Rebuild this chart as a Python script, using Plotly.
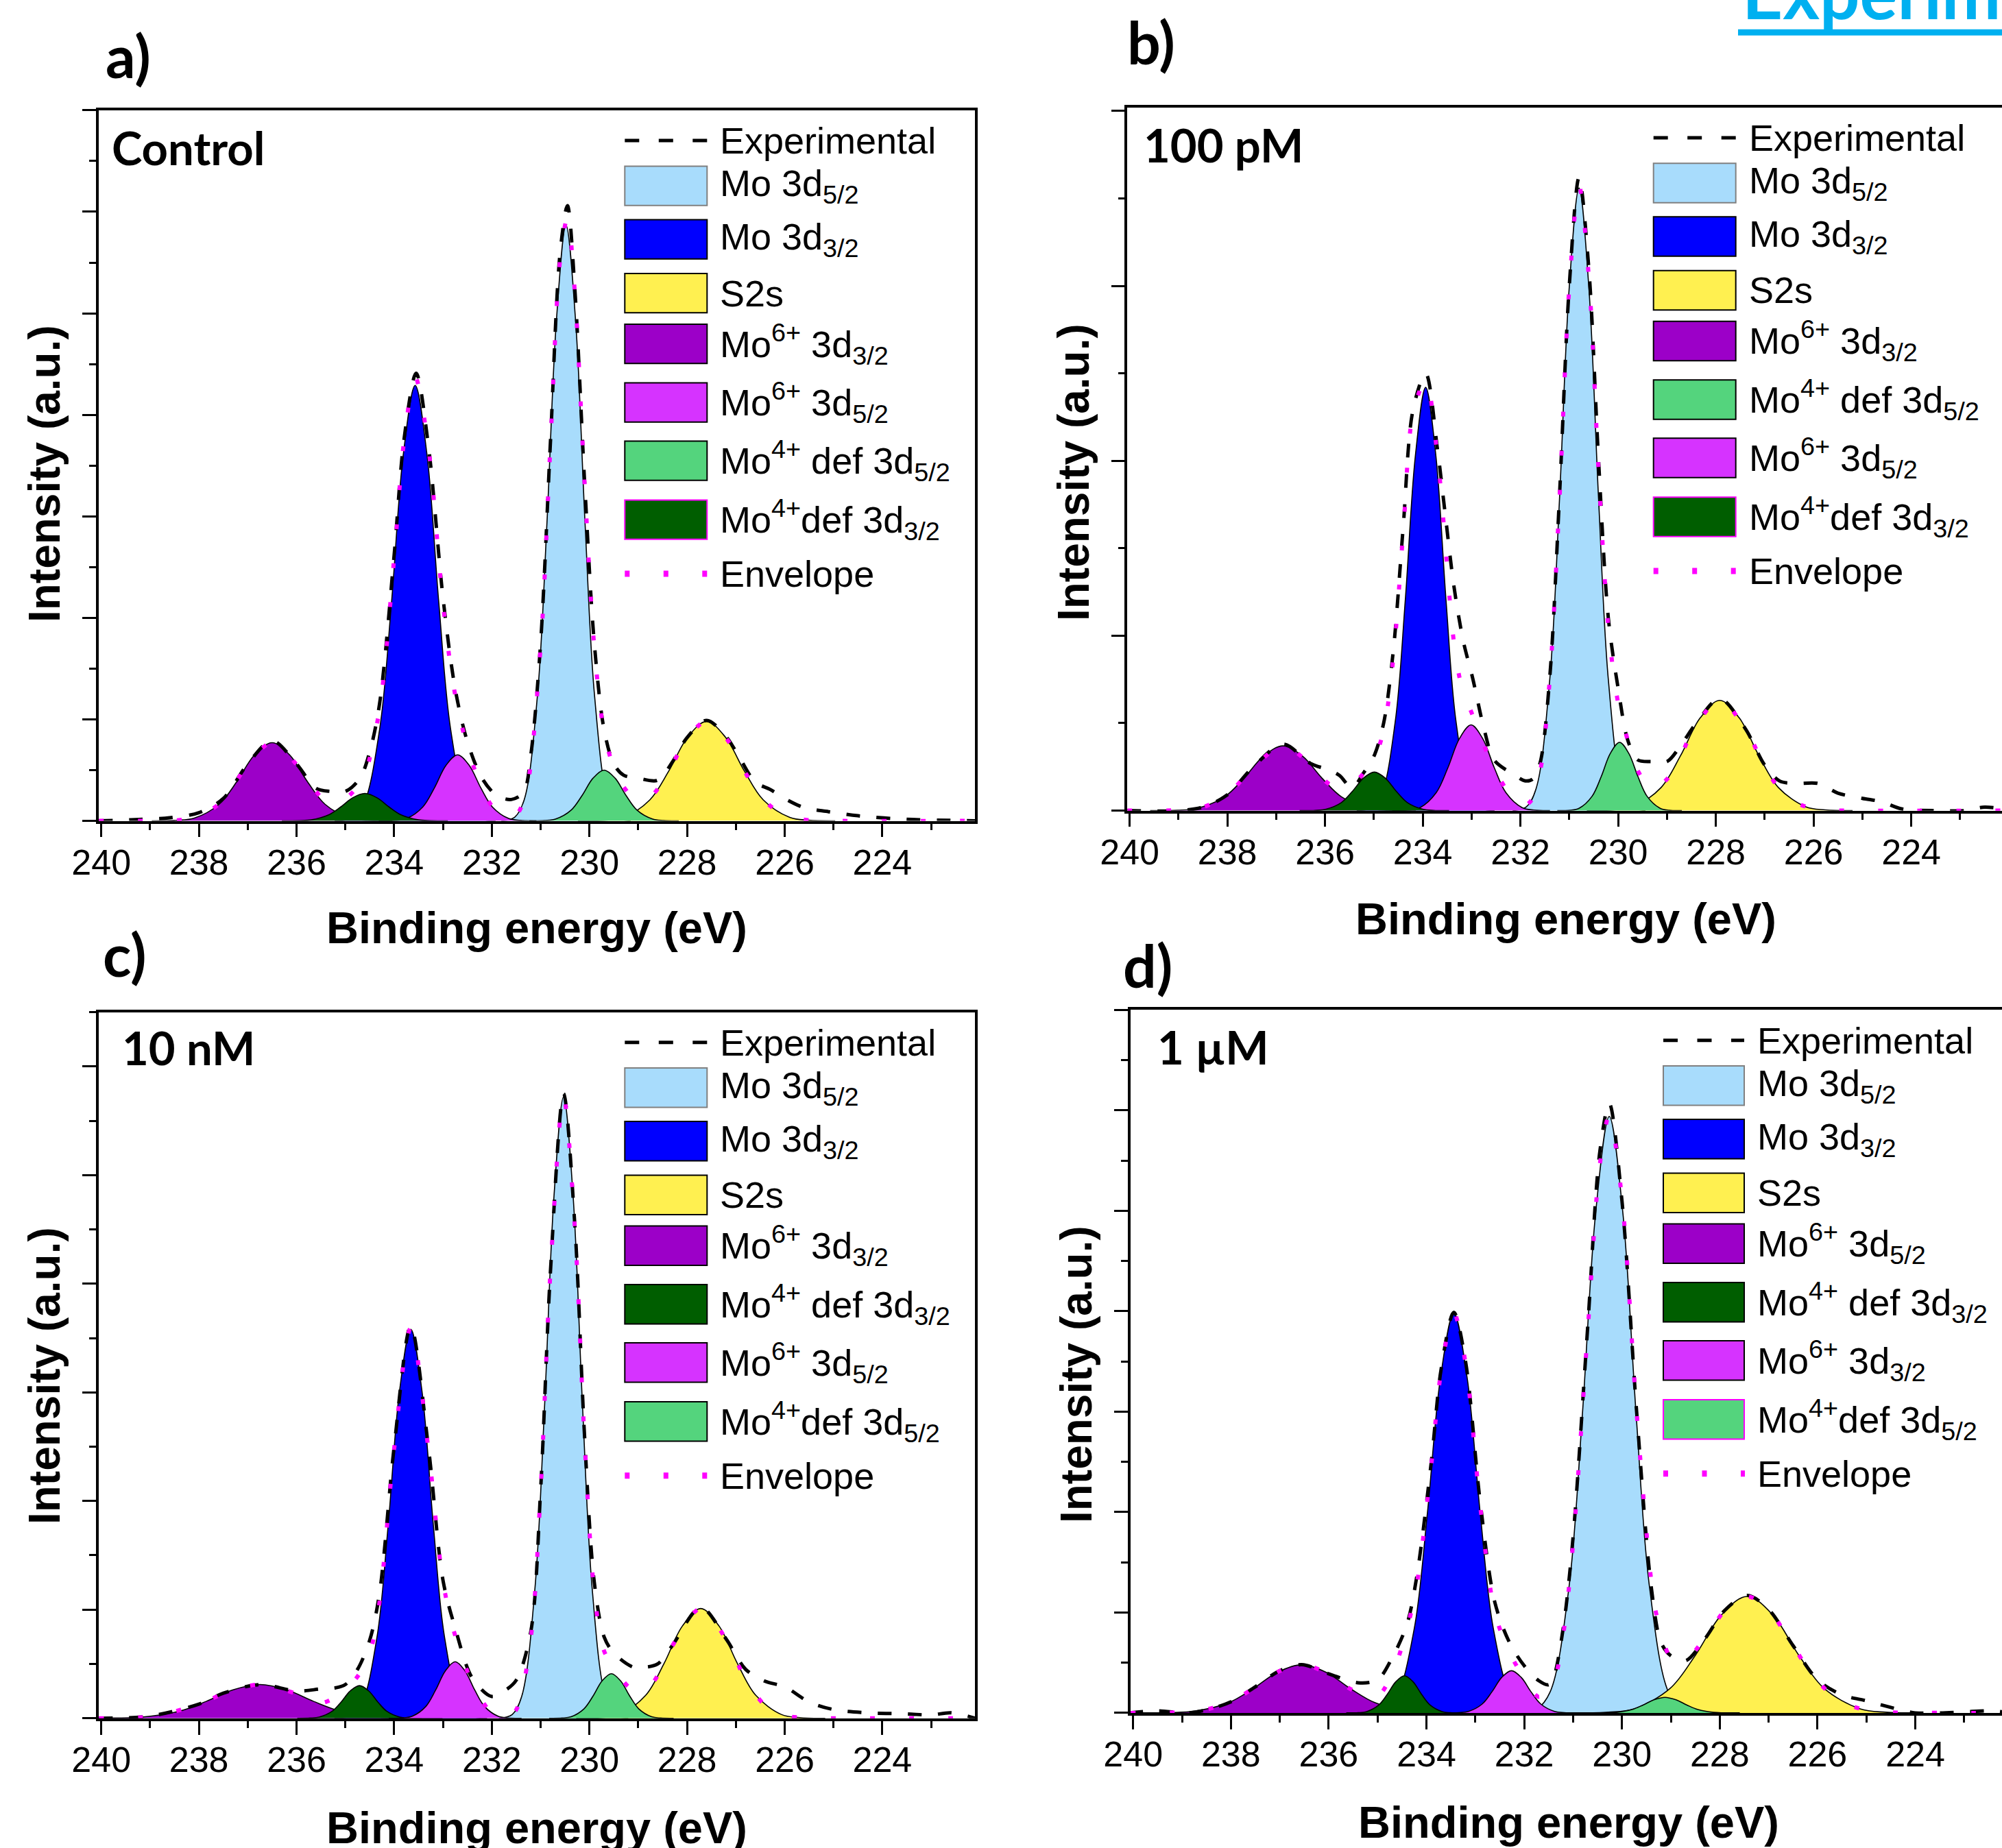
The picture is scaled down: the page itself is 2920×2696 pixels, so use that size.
import plotly.graph_objects as go

# ====================== DATA (binding energy eV, intensity a.u.) ======================
# ---- a) Control ----
A_MO52_X = [229.154, 229.427, 229.622, 229.895, 230.09, 230.285, 230.48, 230.675, 230.87, 231.065, 231.338, 231.533, 231.806]
A_MO52_Y = [0, 0.035, 0.205, 1.233, 2.935, 4.937, 5.87, 4.937, 2.935, 1.233, 0.205, 0.035, 0]
A_MO32_X = [231.921, 232.26, 232.503, 232.843, 233.085, 233.328, 233.57, 233.813, 234.055, 234.298, 234.637, 234.88, 235.219]
A_MO32_Y = [0, 0.026, 0.150, 0.901, 2.145, 3.608, 4.29, 3.608, 2.145, 0.901, 0.150, 0.026, 0]
A_S2S_X = [224.965, 225.508, 225.895, 226.438, 226.825, 227.213, 227.6, 227.988, 228.375, 228.763, 229.305, 229.693, 230.235]
A_S2S_Y = [0, 0.006, 0.034, 0.206, 0.49, 0.824, 0.98, 0.824, 0.49, 0.206, 0.034, 0.006, 0]
A_MO6A_X = [234.035, 234.543, 234.905, 235.413, 235.775, 236.138, 236.5, 236.863, 237.225, 237.588, 238.095, 238.458, 238.965]
A_MO6A_Y = [0, 0.005, 0.027, 0.162, 0.385, 0.648, 0.77, 0.648, 0.385, 0.162, 0.027, 0.005, 0]
A_MO6B_X = [231.085, 231.418, 231.655, 231.988, 232.225, 232.463, 232.7, 232.938, 233.175, 233.413, 233.745, 233.983, 234.315]
A_MO6B_Y = [0, 0.004, 0.023, 0.137, 0.325, 0.547, 0.65, 0.547, 0.325, 0.137, 0.023, 0.004, 0]
A_DEF52_X = [228.17, 228.485, 228.71, 229.025, 229.25, 229.475, 229.7, 229.925, 230.15, 230.375, 230.69, 230.915, 231.23]
A_DEF52_Y = [0, 0.003, 0.018, 0.105, 0.25, 0.421, 0.5, 0.421, 0.25, 0.105, 0.018, 0.003, 0]
A_DEF32_X = [232.9, 233.25, 233.5, 233.85, 234.1, 234.35, 234.6, 234.85, 235.1, 235.35, 235.7, 235.95, 236.3]
A_DEF32_Y = [0, 0.002, 0.009, 0.057, 0.135, 0.227, 0.27, 0.227, 0.135, 0.057, 0.009, 0.002, 0]
A_ENV_X = [240.05, 239.0, 238.5, 238.0, 237.5, 237.0, 236.5, 236.0, 235.5, 235.3, 235.0, 234.8, 234.6, 234.3, 234.0, 233.8,
           233.57, 233.3, 233.0, 232.75, 232.4, 232.0, 231.7, 231.5, 231.3, 231.0, 230.8, 230.6, 230.45, 230.3, 230.1, 229.9,
           229.7, 229.5, 229.3, 229.0, 228.7, 228.3, 228.0, 227.6, 227.2, 226.9, 226.5, 226.0, 225.5, 225.0, 222.1]
A_ENV_Y = [0, 0, 0.004, 0.04, 0.206, 0.554, 0.77, 0.555, 0.235, 0.184, 0.223, 0.309, 0.465, 1.10, 2.59, 3.73,
           4.37, 3.68, 2.14, 1.24, 0.57, 0.147, 0.037, 0.059, 0.276, 1.712, 3.69, 5.53, 5.94, 5.21, 3.33, 1.71,
           0.873, 0.525, 0.334, 0.195, 0.26, 0.557, 0.815, 0.98, 0.815, 0.557, 0.243, 0.051, 0.006, 0, 0]
A_EXP_X = [240.05, 239.4, 238.6, 238.0, 237.5, 237.0, 236.5, 236.0, 235.6, 235.3, 235.0, 234.7, 234.5, 234.3, 234.0, 233.8,
           233.55, 233.3, 233.0, 232.75, 232.5, 232.2, 231.9, 231.6, 231.35, 231.2, 231.0, 230.8, 230.6, 230.45, 230.3, 230.1,
           229.9, 229.7, 229.5, 229.3, 229.0, 228.6, 228.3, 228.0, 227.6, 227.2, 226.9, 226.6, 226.3, 226.0, 225.6, 225.1,
           224.5, 223.5, 222.6, 222.1]
A_EXP_Y = [0.0, 0.01, 0.03, 0.08, 0.22, 0.56, 0.79, 0.56, 0.32, 0.29, 0.29, 0.42, 0.68, 1.15, 2.62, 3.75,
           4.41, 3.70, 2.20, 1.30, 0.78, 0.42, 0.25, 0.21, 0.28, 0.65, 1.75, 3.72, 5.60, 6.06, 5.25, 3.35,
           1.75, 0.90, 0.56, 0.45, 0.42, 0.40, 0.58, 0.82, 0.99, 0.83, 0.60, 0.38, 0.31, 0.22, 0.13, 0.09,
           0.05, 0.015, 0.005, 0.0]

# ---- b) 100 pM ----
B_MO52_X = [229.44, 229.72, 229.92, 230.2, 230.4, 230.6, 230.8, 231.0, 231.2, 231.4, 231.68, 231.88, 232.16]
B_MO52_Y = [0, 0.021, 0.125, 0.748, 1.78, 2.994, 3.56, 2.994, 1.78, 0.748, 0.125, 0.021, 0]
B_MO32_X = [232.529, 232.82, 233.027, 233.318, 233.525, 233.733, 233.94, 234.148, 234.355, 234.563, 234.853, 235.061, 235.351]
B_MO32_Y = [0, 0.015, 0.085, 0.508, 1.21, 2.035, 2.42, 2.035, 1.21, 0.508, 0.085, 0.015, 0]
B_S2S_X = [225.2, 225.76, 226.16, 226.72, 227.12, 227.52, 227.92, 228.32, 228.72, 229.12, 229.68, 230.08, 230.64]
B_S2S_Y = [0, 0.004, 0.022, 0.132, 0.315, 0.530, 0.63, 0.530, 0.315, 0.132, 0.022, 0.004, 0]
B_MO6A_X = [234.14, 234.7, 235.1, 235.66, 236.06, 236.46, 236.86, 237.26, 237.66, 238.06, 238.62, 239.02, 239.58]
B_MO6A_Y = [0, 0.002, 0.013, 0.078, 0.185, 0.311, 0.37, 0.311, 0.185, 0.078, 0.013, 0.002, 0]
B_DEF52_X = [228.695, 228.958, 229.145, 229.408, 229.595, 229.783, 229.97, 230.158, 230.345, 230.533, 230.795, 230.983, 231.245]
B_DEF52_Y = [0, 0.002, 0.014, 0.082, 0.195, 0.328, 0.39, 0.328, 0.195, 0.082, 0.014, 0.002, 0]
B_MO6B_X = [231.395, 231.728, 231.965, 232.298, 232.535, 232.773, 233.01, 233.248, 233.485, 233.723, 234.055, 234.293, 234.625]
B_MO6B_Y = [0, 0.003, 0.017, 0.103, 0.245, 0.412, 0.49, 0.412, 0.245, 0.103, 0.017, 0.003, 0]
B_DEF32_X = [233.46, 233.775, 234.0, 234.315, 234.54, 234.765, 234.99, 235.215, 235.44, 235.665, 235.98, 236.205, 236.52]
B_DEF32_Y = [0, 0.001, 0.008, 0.046, 0.11, 0.185, 0.22, 0.185, 0.11, 0.046, 0.008, 0.001, 0]
B_ENV_X = [240.05, 239.0, 238.5, 238.0, 237.5, 236.86, 236.3, 235.9, 235.5, 235.0, 234.8, 234.6, 234.4, 234.2, 233.94, 233.7,
           233.36, 233.2, 233.0, 232.5, 232.0, 231.8, 231.6, 231.4, 231.2, 231.0, 230.8, 230.6, 230.4, 230.2, 230.0, 229.8,
           229.6, 229.3, 229.0, 228.7, 228.4, 227.92, 227.4, 227.0, 226.7, 226.3, 225.8, 225.0, 222.1]
B_ENV_Y = [0, 0.003, 0.02, 0.09, 0.237, 0.37, 0.263, 0.15, 0.14, 0.30, 0.46, 0.88, 1.59, 2.27, 2.46, 2.03,
           0.96, 0.706, 0.56, 0.22, 0.028, 0.05, 0.22, 0.75, 1.78, 2.99, 3.57, 3.05, 1.94, 1.05, 0.615, 0.40,
           0.23, 0.123, 0.18, 0.326, 0.49, 0.63, 0.47, 0.252, 0.126, 0.037, 0.005, 0, 0]
B_EXP_X = [240.05, 239.0, 238.5, 238.0, 237.5, 236.86, 236.3, 235.9, 235.7, 235.45, 235.2, 235.0, 234.8, 234.6, 234.4, 234.2,
           233.94, 233.7, 233.55, 233.36, 233.17, 232.98, 232.73, 232.54, 232.16, 231.9, 231.75, 231.6, 231.4, 231.2, 231.0,
           230.8, 230.6, 230.4, 230.2, 230.0, 229.8, 229.6, 229.3, 229.0, 228.7, 228.4, 227.92, 227.4, 227.0, 226.7, 226.4,
           225.9, 225.5, 225.0, 224.6, 224.2, 223.5, 222.9, 222.5, 222.15]
B_EXP_Y = [0.0, 0.0, 0.02, 0.09, 0.24, 0.38, 0.27, 0.23, 0.20, 0.13, 0.22, 0.31, 0.50, 0.92, 1.62, 2.29,
           2.50, 2.07, 1.72, 1.28, 0.97, 0.76, 0.45, 0.29, 0.21, 0.17, 0.18, 0.27, 0.76, 1.80, 3.00,
           3.62, 3.10, 2.00, 1.10, 0.70, 0.40, 0.29, 0.28, 0.28, 0.38, 0.50, 0.64, 0.47, 0.26, 0.17, 0.155,
           0.155, 0.10, 0.07, 0.05, 0.01, 0.0, 0.0, 0.02, 0.01]

# ---- c) 10 nM ----
C_MO52_X = [229.204, 229.477, 229.672, 229.945, 230.14, 230.335, 230.53, 230.725, 230.92, 231.115, 231.388, 231.583, 231.856]
C_MO52_Y = [0, 0.034, 0.200, 1.201, 2.86, 4.811, 5.72, 4.811, 2.86, 1.201, 0.200, 0.034, 0]
C_MO32_X = [232.096, 232.418, 232.648, 232.97, 233.2, 233.43, 233.66, 233.89, 234.12, 234.35, 234.672, 234.902, 235.224]
C_MO32_Y = [0, 0.021, 0.125, 0.752, 1.79, 3.011, 3.58, 3.011, 1.79, 0.752, 0.125, 0.021, 0]
C_S2S_X = [225.17, 225.695, 226.07, 226.595, 226.97, 227.345, 227.72, 228.095, 228.47, 228.845, 229.37, 229.745, 230.27]
C_S2S_Y = [0, 0.006, 0.035, 0.212, 0.505, 0.849, 1.01, 0.849, 0.505, 0.212, 0.035, 0.006, 0]
C_MO6A_X = [233.01, 233.78, 234.33, 235.1, 235.65, 236.2, 236.75, 237.3, 237.85, 238.4, 239.17, 239.72, 240.49]
C_MO6A_Y = [0, 0.002, 0.011, 0.065, 0.155, 0.261, 0.31, 0.261, 0.155, 0.065, 0.011, 0.002, 0]
C_DEF32_X = [233.435, 233.698, 233.885, 234.148, 234.335, 234.523, 234.71, 234.898, 235.085, 235.273, 235.535, 235.723, 235.985]
C_DEF32_Y = [0, 0.002, 0.011, 0.063, 0.15, 0.252, 0.30, 0.252, 0.15, 0.063, 0.011, 0.002, 0]
C_MO6B_X = [231.39, 231.67, 231.87, 232.15, 232.35, 232.55, 232.75, 232.95, 233.15, 233.35, 233.63, 233.83, 234.11]
C_MO6B_Y = [0, 0.003, 0.018, 0.109, 0.26, 0.437, 0.52, 0.437, 0.26, 0.109, 0.018, 0.003, 0]
C_DEF52_X = [228.275, 228.538, 228.725, 228.988, 229.175, 229.363, 229.55, 229.738, 229.925, 230.113, 230.375, 230.563, 230.825]
C_DEF52_Y = [0, 0.002, 0.014, 0.086, 0.205, 0.345, 0.41, 0.345, 0.205, 0.086, 0.014, 0.002, 0]
C_ENV_X = [240.05, 239.0, 238.0, 237.5, 236.75, 236.0, 235.5, 235.0, 234.71, 234.5, 234.3, 234.0, 233.66, 233.3, 233.0, 232.75,
           232.4, 232.0, 231.7, 231.5, 231.2, 231.0, 230.8, 230.53, 230.3, 230.1, 229.9, 229.7, 229.5, 229.2, 228.9, 228.6,
           228.3, 227.72, 227.2, 226.8, 226.4, 226.0, 225.5, 225.0, 222.1]
C_ENV_Y = [0, 0.017, 0.127, 0.225, 0.31, 0.225, 0.14, 0.26, 0.41, 0.60, 1.07, 2.48, 3.59, 2.48, 1.26, 0.76,
           0.33, 0.05, 0.015, 0.078, 0.74, 2.09, 4.10, 5.72, 4.52, 2.56, 1.16, 0.62, 0.47, 0.29, 0.233, 0.394,
           0.667, 1.01, 0.724, 0.356, 0.118, 0.026, 0.002, 0, 0]
C_EXP_X = [240.05, 239.0, 238.0, 237.5, 236.75, 236.0, 235.5, 235.2, 235.0, 234.75, 234.5, 234.3, 234.0, 233.66, 233.3, 233.0,
           232.75, 232.4, 232.0, 231.75, 231.5, 231.2, 231.0, 230.8, 230.53, 230.3, 230.1, 229.9, 229.7, 229.5, 229.1, 228.85,
           228.6, 228.3, 227.72, 227.2, 226.8, 226.4, 226.0, 225.5, 225.0, 224.3, 223.5, 223.0, 222.6, 222.1]
C_EXP_Y = [0.0, 0.02, 0.13, 0.23, 0.31, 0.25, 0.27, 0.28, 0.31, 0.45, 0.72, 1.15, 2.50, 3.61, 2.50, 1.27,
           0.83, 0.37, 0.20, 0.25, 0.35, 0.80, 2.10, 4.10, 5.75, 4.55, 2.60, 1.25, 0.75, 0.60, 0.47, 0.47,
           0.50, 0.67, 1.02, 0.73, 0.45, 0.34, 0.29, 0.15, 0.08, 0.05, 0.04, 0.03, 0.05, 0.0]

# ---- d) 1 µM ----
D_MO52_X = [228.39, 228.775, 229.05, 229.435, 229.71, 229.985, 230.26, 230.535, 230.81, 231.085, 231.47, 231.745, 232.13]
D_MO52_Y = [0, 0.036, 0.208, 1.247, 2.97, 4.996, 5.94, 4.996, 2.97, 1.247, 0.208, 0.036, 0]
D_MO32_X = [231.604, 231.982, 232.252, 232.63, 232.9, 233.17, 233.44, 233.71, 233.98, 234.25, 234.628, 234.898, 235.276]
D_MO32_Y = [0, 0.024, 0.139, 0.836, 1.99, 3.347, 3.98, 3.347, 1.99, 0.836, 0.139, 0.024, 0]
D_S2S_X = [223.87, 224.605, 225.13, 225.865, 226.39, 226.915, 227.44, 227.965, 228.49, 229.015, 229.75, 230.275, 231.01]
D_S2S_Y = [0, 0.007, 0.041, 0.244, 0.58, 0.976, 1.16, 0.976, 0.58, 0.244, 0.041, 0.007, 0]
D_MO6A_X = [233.15, 233.85, 234.35, 235.05, 235.55, 236.05, 236.55, 237.05, 237.55, 238.05, 238.75, 239.25, 239.95]
D_MO6A_Y = [0, 0.003, 0.017, 0.101, 0.24, 0.404, 0.48, 0.404, 0.24, 0.101, 0.017, 0.003, 0]
D_DEF32_X = [233.26, 233.505, 233.68, 233.925, 234.1, 234.275, 234.45, 234.625, 234.8, 234.975, 235.22, 235.395, 235.64]
D_DEF32_Y = [0, 0.002, 0.013, 0.078, 0.185, 0.311, 0.37, 0.311, 0.185, 0.078, 0.013, 0.002, 0]
D_MO6B_X = [230.9, 231.18, 231.38, 231.66, 231.86, 232.06, 232.26, 232.46, 232.66, 232.86, 233.14, 233.34, 233.62]
D_MO6B_Y = [0, 0.003, 0.015, 0.088, 0.21, 0.353, 0.42, 0.353, 0.21, 0.088, 0.015, 0.003, 0]
D_DEF52_X = [227.59, 227.905, 228.13, 228.445, 228.67, 228.895, 229.12, 229.345, 229.57, 229.795, 230.11, 230.335, 230.65]
D_DEF52_Y = [0, 0.001, 0.005, 0.033, 0.078, 0.130, 0.155, 0.130, 0.078, 0.033, 0.005, 0.001, 0]
D_ENV_X = [240.05, 239.0, 238.5, 238.0, 237.5, 237.0, 236.55, 236.0, 235.5, 235.0, 234.7, 234.45, 234.2, 233.9, 233.7, 233.44,
           233.2, 232.9, 232.6, 232.3, 232.0, 231.7, 231.4, 231.2, 231.0, 230.7, 230.45, 230.26, 230.0, 229.7, 229.4, 229.3,
           229.0, 228.7, 228.3, 227.9, 227.44, 227.0, 226.5, 226.0, 225.5, 225.0, 224.5, 224.0, 222.2]
D_ENV_Y = [0, 0.0075, 0.034, 0.112, 0.257, 0.417, 0.48, 0.389, 0.225, 0.17, 0.395, 0.745, 1.27, 2.47, 3.40, 3.98,
           3.48, 2.06, 1.0, 0.60, 0.35, 0.16, 0.32, 0.787, 1.69, 3.81, 5.47, 5.95, 5.12, 2.99, 1.31, 0.99,
           0.555, 0.535, 0.745, 1.015, 1.16, 1.027, 0.666, 0.315, 0.109, 0.027, 0.005, 0.001, 0]
D_EXP_X = [240.08, 239.5, 238.9, 238.5, 238.0, 237.5, 237.0, 236.55, 236.0, 235.4, 235.0, 234.7, 234.4, 234.2, 233.9, 233.7,
           233.44, 233.2, 232.9, 232.6, 232.3, 232.0, 231.7, 231.5, 231.4, 231.2, 231.0, 230.7, 230.45, 230.26, 230.0, 229.7,
           229.4, 229.2, 229.0, 228.7, 228.3, 227.9, 227.44, 227.0, 226.5, 226.0, 225.5, 225.0, 224.7, 224.3, 224.0, 223.5,
           223.0, 222.5, 222.2]
D_EXP_Y = [0.0, 0.02, 0.0, 0.03, 0.11, 0.26, 0.42, 0.48, 0.39, 0.30, 0.33, 0.55, 0.88, 1.35, 2.50, 3.42,
           3.99, 3.50, 2.10, 1.10, 0.70, 0.47, 0.32, 0.28, 0.35, 0.85, 1.75, 3.85, 5.60, 6.07, 5.10, 3.00,
           1.25, 0.70, 0.57, 0.52, 0.74, 1.02, 1.17, 1.03, 0.67, 0.33, 0.18, 0.12, 0.08, 0.03, 0.0, 0.0,
           0.01, 0.02, 0.01]

# x tick labels (binding energy)
X_TICKS = [240, 238, 236, 234, 232, 230, 228, 226, 224]

# ---- labels ----
PANEL_TAGS = ["a)", "b)", "c)", "d)"]
SAMPLE_NAMES = ["Control", "100 pM", "10 nM", "1 µM"]
X_TITLE = "Binding energy (eV)"
Y_TITLE = "Intensity (a.u.)"
TOP_TITLE = "Experimental"

LBL = {
    "MO52": "Mo 3d<sub>5/2</sub>",
    "MO32": "Mo 3d<sub>3/2</sub>",
    "S2S": "S2s",
    "6_32": "Mo<sup>6+</sup> 3d<sub>3/2</sub>",
    "6_52": "Mo<sup>6+</sup> 3d<sub>5/2</sub>",
    "4_52": "Mo<sup>4+</sup> def 3d<sub>5/2</sub>",
    "4_32": "Mo<sup>4+</sup> def 3d<sub>3/2</sub>",
    "4n_32": "Mo<sup>4+</sup>def 3d<sub>3/2</sub>",
    "4n_52": "Mo<sup>4+</sup>def 3d<sub>5/2</sub>",
}

COLORS = {
    "MO52": "#A8DCFC", "MO32": "#0000FF", "S2S": "#FFF050", "MO6A": "#9C00C8",
    "MO6B": "#D633FF", "DEF52": "#54D47D", "DEF32": "#005E00",
}

# component order (drawing & legend) per panel: (component, label key)
A_ORDER = [("MO52", "MO52"), ("MO32", "MO32"), ("S2S", "S2S"), ("MO6A", "6_32"), ("MO6B", "6_52"), ("DEF52", "4_52"), ("DEF32", "4n_32")]
B_ORDER = [("MO52", "MO52"), ("MO32", "MO32"), ("S2S", "S2S"), ("MO6A", "6_32"), ("DEF52", "4_52"), ("MO6B", "6_52"), ("DEF32", "4n_32")]
C_ORDER = [("MO52", "MO52"), ("MO32", "MO32"), ("S2S", "S2S"), ("MO6A", "6_32"), ("DEF32", "4_32"), ("MO6B", "6_52"), ("DEF52", "4n_52")]
D_ORDER = [("MO52", "MO52"), ("MO32", "MO32"), ("S2S", "S2S"), ("MO6A", "6_52"), ("DEF32", "4_32"), ("MO6B", "6_32"), ("DEF52", "4n_52")]

DATA = {
    "a": {"MO52": (A_MO52_X, A_MO52_Y), "MO32": (A_MO32_X, A_MO32_Y), "S2S": (A_S2S_X, A_S2S_Y), "MO6A": (A_MO6A_X, A_MO6A_Y),
          "MO6B": (A_MO6B_X, A_MO6B_Y), "DEF52": (A_DEF52_X, A_DEF52_Y), "DEF32": (A_DEF32_X, A_DEF32_Y),
          "ENV": (A_ENV_X, A_ENV_Y), "EXP": (A_EXP_X, A_EXP_Y)},
    "b": {"MO52": (B_MO52_X, B_MO52_Y), "MO32": (B_MO32_X, B_MO32_Y), "S2S": (B_S2S_X, B_S2S_Y), "MO6A": (B_MO6A_X, B_MO6A_Y),
          "MO6B": (B_MO6B_X, B_MO6B_Y), "DEF52": (B_DEF52_X, B_DEF52_Y), "DEF32": (B_DEF32_X, B_DEF32_Y),
          "ENV": (B_ENV_X, B_ENV_Y), "EXP": (B_EXP_X, B_EXP_Y)},
    "c": {"MO52": (C_MO52_X, C_MO52_Y), "MO32": (C_MO32_X, C_MO32_Y), "S2S": (C_S2S_X, C_S2S_Y), "MO6A": (C_MO6A_X, C_MO6A_Y),
          "MO6B": (C_MO6B_X, C_MO6B_Y), "DEF52": (C_DEF52_X, C_DEF52_Y), "DEF32": (C_DEF32_X, C_DEF32_Y),
          "ENV": (C_ENV_X, C_ENV_Y), "EXP": (C_EXP_X, C_EXP_Y)},
    "d": {"MO52": (D_MO52_X, D_MO52_Y), "MO32": (D_MO32_X, D_MO32_Y), "S2S": (D_S2S_X, D_S2S_Y), "MO6A": (D_MO6A_X, D_MO6A_Y),
          "MO6B": (D_MO6B_X, D_MO6B_Y), "DEF52": (D_DEF52_X, D_DEF52_Y), "DEF32": (D_DEF32_X, D_DEF32_Y),
          "ENV": (D_ENV_X, D_ENV_Y), "EXP": (D_EXP_X, D_EXP_Y)},
}
for _k, _d in DATA.items():
    for _n, (_x, _y) in _d.items():
        if len(_x) != len(_y):
            raise ValueError(f"length mismatch {_k} {_n}: {len(_x)} vs {len(_y)}")

# ====================== LAYOUT (pixels of the 2920 x 2696 canvas) ======================
W, H = 2920, 2696
FONT_AR = "Liberation Sans, Arial, sans-serif"
FONT_CB = "Lato, Carlito, Calibri, sans-serif"
LW = 3.5

# ytop: value of the top edge of each frame (in y-units), so that its top tick is drawn
PANELS = [
    dict(k="a", order=A_ORDER, L=142.3, R=1424.0, B=1199.3, ytop=7.0, x240=147.7, ppe=71.2, ppu=148.1, right=True,
         tag=(154, 114), name=(163, 217.3), xt=(783, 1353), yt=(65, 691), leg_dx=(769, 889, 908), magenta_edge="DEF32"),
    dict(k="b", order=B_ORDER, L=1642.7, R=W, B=1184.4, ytop=4.02, x240=1647.6, ppe=71.25, ppu=255.2, right=False,
         tag=(1644, 93.3), name=(1668, 212.5), xt=(2284, 1340), yt=(1566, 689), leg_dx=(769, 889, 908), magenta_edge="DEF32"),
    dict(k="c", order=C_ORDER, L=142.3, R=1424.0, B=2508.5, ytop=6.5, x240=147.7, ppe=71.2, ppu=158.5, right=True,
         tag=(150, 1425), name=(178, 1530), xt=(783, 2666), yt=(65, 2007), leg_dx=(769, 889, 908), magenta_edge=None),
    dict(k="d", order=D_ORDER, L=1647.0, R=W, B=2500.7, ytop=7.0, x240=1652.7, ppe=71.3, ppu=146.5, right=False,
         tag=(1638, 1441), name=(1688, 1529), xt=(2288, 2658), yt=(1570, 2005), leg_dx=(779, 897, 915.5), magenta_edge="DEF52"),
]
ROW_OFF = [46, 112, 190, 268.5, 342.5, 428, 513, 599, 678]


def P(x):
    return x / W


def Q(y):
    return 1 - y / H


def lato_c(baseline, size):
    return baseline - 0.387 * size


fig = go.Figure()
annotations = []
shapes = []


def text(t, x, yc, size, family, color="black", weight="normal", xanchor="left", angle=0):
    annotations.append(dict(text=t, x=P(x), y=Q(yc), xref="paper", yref="paper", xanchor=xanchor, yanchor="middle",
                            showarrow=False, textangle=angle, borderpad=0, borderwidth=0,
                            font=dict(size=size, family=family, color=color, weight=weight)))


for i, p in enumerate(PANELS):
    sfx = "" if i == 0 else str(i + 1)
    xa, ya = "x" + sfx, "y" + sfx
    d = DATA[p["k"]]
    # components
    for comp, _lab in p["order"]:
        x, y = d[comp]
        fig.add_trace(go.Scatter(x=x, y=y, mode="lines", fill="tozeroy", fillcolor=COLORS[comp],
                                 line=dict(color="black", width=1.6, shape="spline", smoothing=1.0),
                                 xaxis=xa, yaxis=ya, hoverinfo="skip", showlegend=False))
    ex, ey = d["EXP"]
    fig.add_trace(go.Scatter(x=ex, y=ey, mode="lines",
                             line=dict(color="black", width=5, dash="20px,24px", shape="spline", smoothing=0.9),
                             xaxis=xa, yaxis=ya, hoverinfo="skip", showlegend=False))
    vx, vy = d["ENV"]
    fig.add_trace(go.Scatter(x=vx, y=vy, mode="lines",
                             line=dict(color="#FF00FF", width=6, dash="7px,50px", shape="spline", smoothing=0.9),
                             xaxis=xa, yaxis=ya, hoverinfo="skip", showlegend=False))

    # axes geometry: plot area bottom edge is y=0, top edge is y=ytop
    xl = p["L"] + LW / 2
    xr = (p["R"] - LW / 2) if p["right"] else W
    yb = p["B"] - LW / 2
    yt = yb - p["ytop"] * p["ppu"]
    xrange = [240 + (p["x240"] - xl) / p["ppe"], 240 - (xr - p["x240"]) / p["ppe"]]
    yrange = [-0.0004, p["ytop"] + 0.0004]
    fig.update_layout(**{
        "xaxis" + sfx: dict(domain=[P(xl), P(xr)], range=xrange, anchor=ya, showline=True, linecolor="black",
                            linewidth=LW, mirror=True, ticks="outside", ticklen=20, tickwidth=3.3, tickcolor="black",
                            tickmode="array", tickvals=X_TICKS, ticktext=[str(v) for v in X_TICKS],
                            tickfont=dict(size=52, family=FONT_AR, color="black"), showgrid=False, zeroline=False,
                            automargin=False, ticklabelstandoff=-8,
                            minor=dict(ticks="outside", ticklen=10, tickwidth=3, tickcolor="black", dtick=1, tick0=0,
                                       showgrid=False)),
        "yaxis" + sfx: dict(domain=[Q(yb), Q(yt)], range=yrange, anchor=xa, showline=True, linecolor="black",
                            linewidth=LW, mirror=p["right"], ticks="outside", ticklen=20, tickwidth=3.3,
                            tickcolor="black", tickmode="linear", tick0=0, dtick=1, showticklabels=False,
                            showgrid=False, zeroline=False, automargin=False,
                            minor=dict(ticks="outside", ticklen=10, tickwidth=3, tickcolor="black", dtick=0.5,
                                       tick0=0, showgrid=False)),
    })

    # panel tag, sample name, axis titles
    text(PANEL_TAGS[i], p["tag"][0], lato_c(p["tag"][1], 86), 86, FONT_CB, weight="bold")
    text(SAMPLE_NAMES[i], p["name"][0], p["name"][1] - 2, 67, FONT_CB, weight="bold")
    text(X_TITLE, p["xt"][0], p["xt"][1], 65, FONT_AR, weight="bold", xanchor="center")
    text(Y_TITLE, p["yt"][0], p["yt"][1], 64, FONT_AR, weight="bold", xanchor="center", angle=-90)

    # legend block (anchored to the frame's top edge)
    top = yt - LW / 2
    sx0, sx1, tx = (p["L"] + v for v in p["leg_dx"])
    rows = [("EXP", "Experimental")] + [(c, LBL[lk]) for c, lk in p["order"]] + [("ENV", "Envelope")]
    for r, (comp, lab) in enumerate(rows):
        yc = top + ROW_OFF[r]
        if comp == "EXP":
            shapes.append(dict(type="line", xref="paper", yref="paper", x0=P(sx0), x1=P(sx1), y0=Q(yc), y1=Q(yc),
                               line=dict(color="black", width=5, dash="21px,28.5px")))
        elif comp == "ENV":
            shapes.append(dict(type="line", xref="paper", yref="paper", x0=P(sx0), x1=P(sx1 + 1), y0=Q(yc), y1=Q(yc),
                               line=dict(color="#FF00FF", width=9, dash="7px,49.5px")))
        else:
            edge = "#808080" if comp == "MO52" else ("#FF00FF" if comp == p["magenta_edge"] else "black")
            shapes.append(dict(type="rect", xref="paper", yref="paper", x0=P(sx0), x1=P(sx1), y0=Q(yc - 28.7),
                               y1=Q(yc + 28.7), fillcolor=COLORS[comp], line=dict(color=edge, width=2)))
        text(lab, tx, yc, 54, FONT_AR)

# cut-off blue heading at the top right
text(TOP_TITLE, 2541, lato_c(28, 103), 103, FONT_CB, color="#00B0F0", weight="bold")
shapes.append(dict(type="rect", xref="paper", yref="paper", x0=P(2535), x1=P(2925), y0=Q(51.7), y1=Q(42.7),
                   fillcolor="#00B0F0", line=dict(width=0)))

fig.update_layout(width=W, height=H, margin=dict(l=0, r=0, t=0, b=0, pad=0, autoexpand=False),
                  paper_bgcolor="white", plot_bgcolor="white", showlegend=False,
                  annotations=annotations, shapes=shapes)

fig.write_html("out.html", config={"displayModeBar": False},
               post_script="document.body.style.margin='0px';document.body.style.overflow='hidden';")
